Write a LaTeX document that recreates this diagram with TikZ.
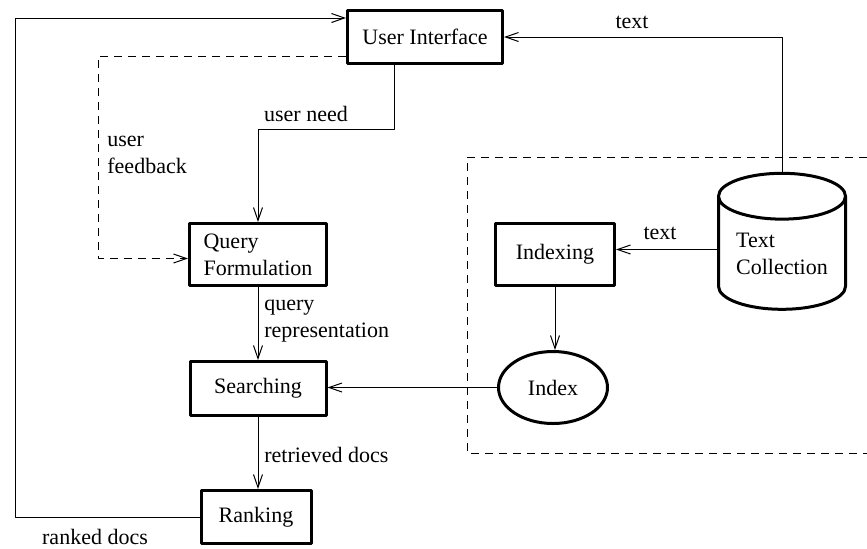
\documentclass[tikz,border=0pt]{standalone}
\usepackage{fontspec}
\setmainfont{Liberation Serif}
\usetikzlibrary{arrows.meta,shapes.geometric}

\begin{document}
\begin{tikzpicture}[x=0.5pt,y=-0.5pt,line join=round,
  every node/.style={font=\fontsize{11}{13.5}\selectfont},
  box/.style={draw,line width=1.5pt,inner sep=0pt,align=left},
  arr/.style={line width=.5pt,-{Straight Barb[length=6.5pt,width=4.5pt]}},
  lbl/.style={inner sep=0pt,align=left}]
\useasboundingbox (0,0) rectangle (867,548);
\node[box,minimum width=77.5pt,minimum height=26.5pt] (ui) at (425,37) {User Interface};
\node[box,minimum width=68.5pt,minimum height=31pt] (qf) at (258,254.5) {Query\\Formulation};
\node[box,minimum width=68pt,minimum height=27pt] (search) at (258,388.5) {Searching};
\node[box,minimum width=55pt,minimum height=26.5pt] (rank) at (256,517) {Ranking};
\node[box,minimum width=59.5pt,minimum height=31pt] (idx) at (555,254.5) {Indexing};
\node[box,ellipse,minimum width=54.5pt,minimum height=36pt] (index) at (553,387.5) {Index};
\node[box,cylinder,shape border rotate=90,aspect=0.5,minimum width=63.5pt,minimum height=68pt] (coll) at (782,253.5) {Text\\Collection};
\coordinate (loopc) at (15,18);
\coordinate (fbc) at (98,56);
\coordinate (needc) at (394,129);
\draw[arr] (rank.west) -| (loopc) -- (loopc -| ui.west);
\draw[arr,dashed,dash pattern=on 4pt off 3pt] (fbc -| ui.west) -- (fbc) |- ([yshift=-2pt]qf.west);
\draw[arr] (needc |- ui.south) -- (needc) -| (qf.north);
\draw[arr] (coll.north) |- (ui.east);
\draw[arr] ([yshift=2pt]coll.west) -- ([yshift=2pt]coll.west -| idx.east);
\draw[arr] (idx.south) -- (idx.south |- index.north);
\draw[arr] (index.west) -- (index.west -| search.east);
\draw[arr] (qf.south) -- (search.north);
\draw[arr] (search.south) -- (search.south |- rank.north);
\draw[line width=.5pt,dash pattern=on 4pt off 3pt] (867,157) -- (467,157) -- (467,453) -- (867,453);
\node[lbl] (ltext) at (632,22) {text};
\node[lbl] (lneed) at (306,114) {user need};
\node[lbl,anchor=west] (lfeed) at (107,155) {user\\feedback};
\node[lbl] (ltext2) at (660,233) {text};
\node[lbl,anchor=west] (lquery) at (264,321) {query\\representation};
\node[lbl,anchor=west] (lretr) at (264,455) {retrieved docs};
\node[lbl] (lrank) at (95,537) {ranked docs};
\end{tikzpicture}
\end{document}
